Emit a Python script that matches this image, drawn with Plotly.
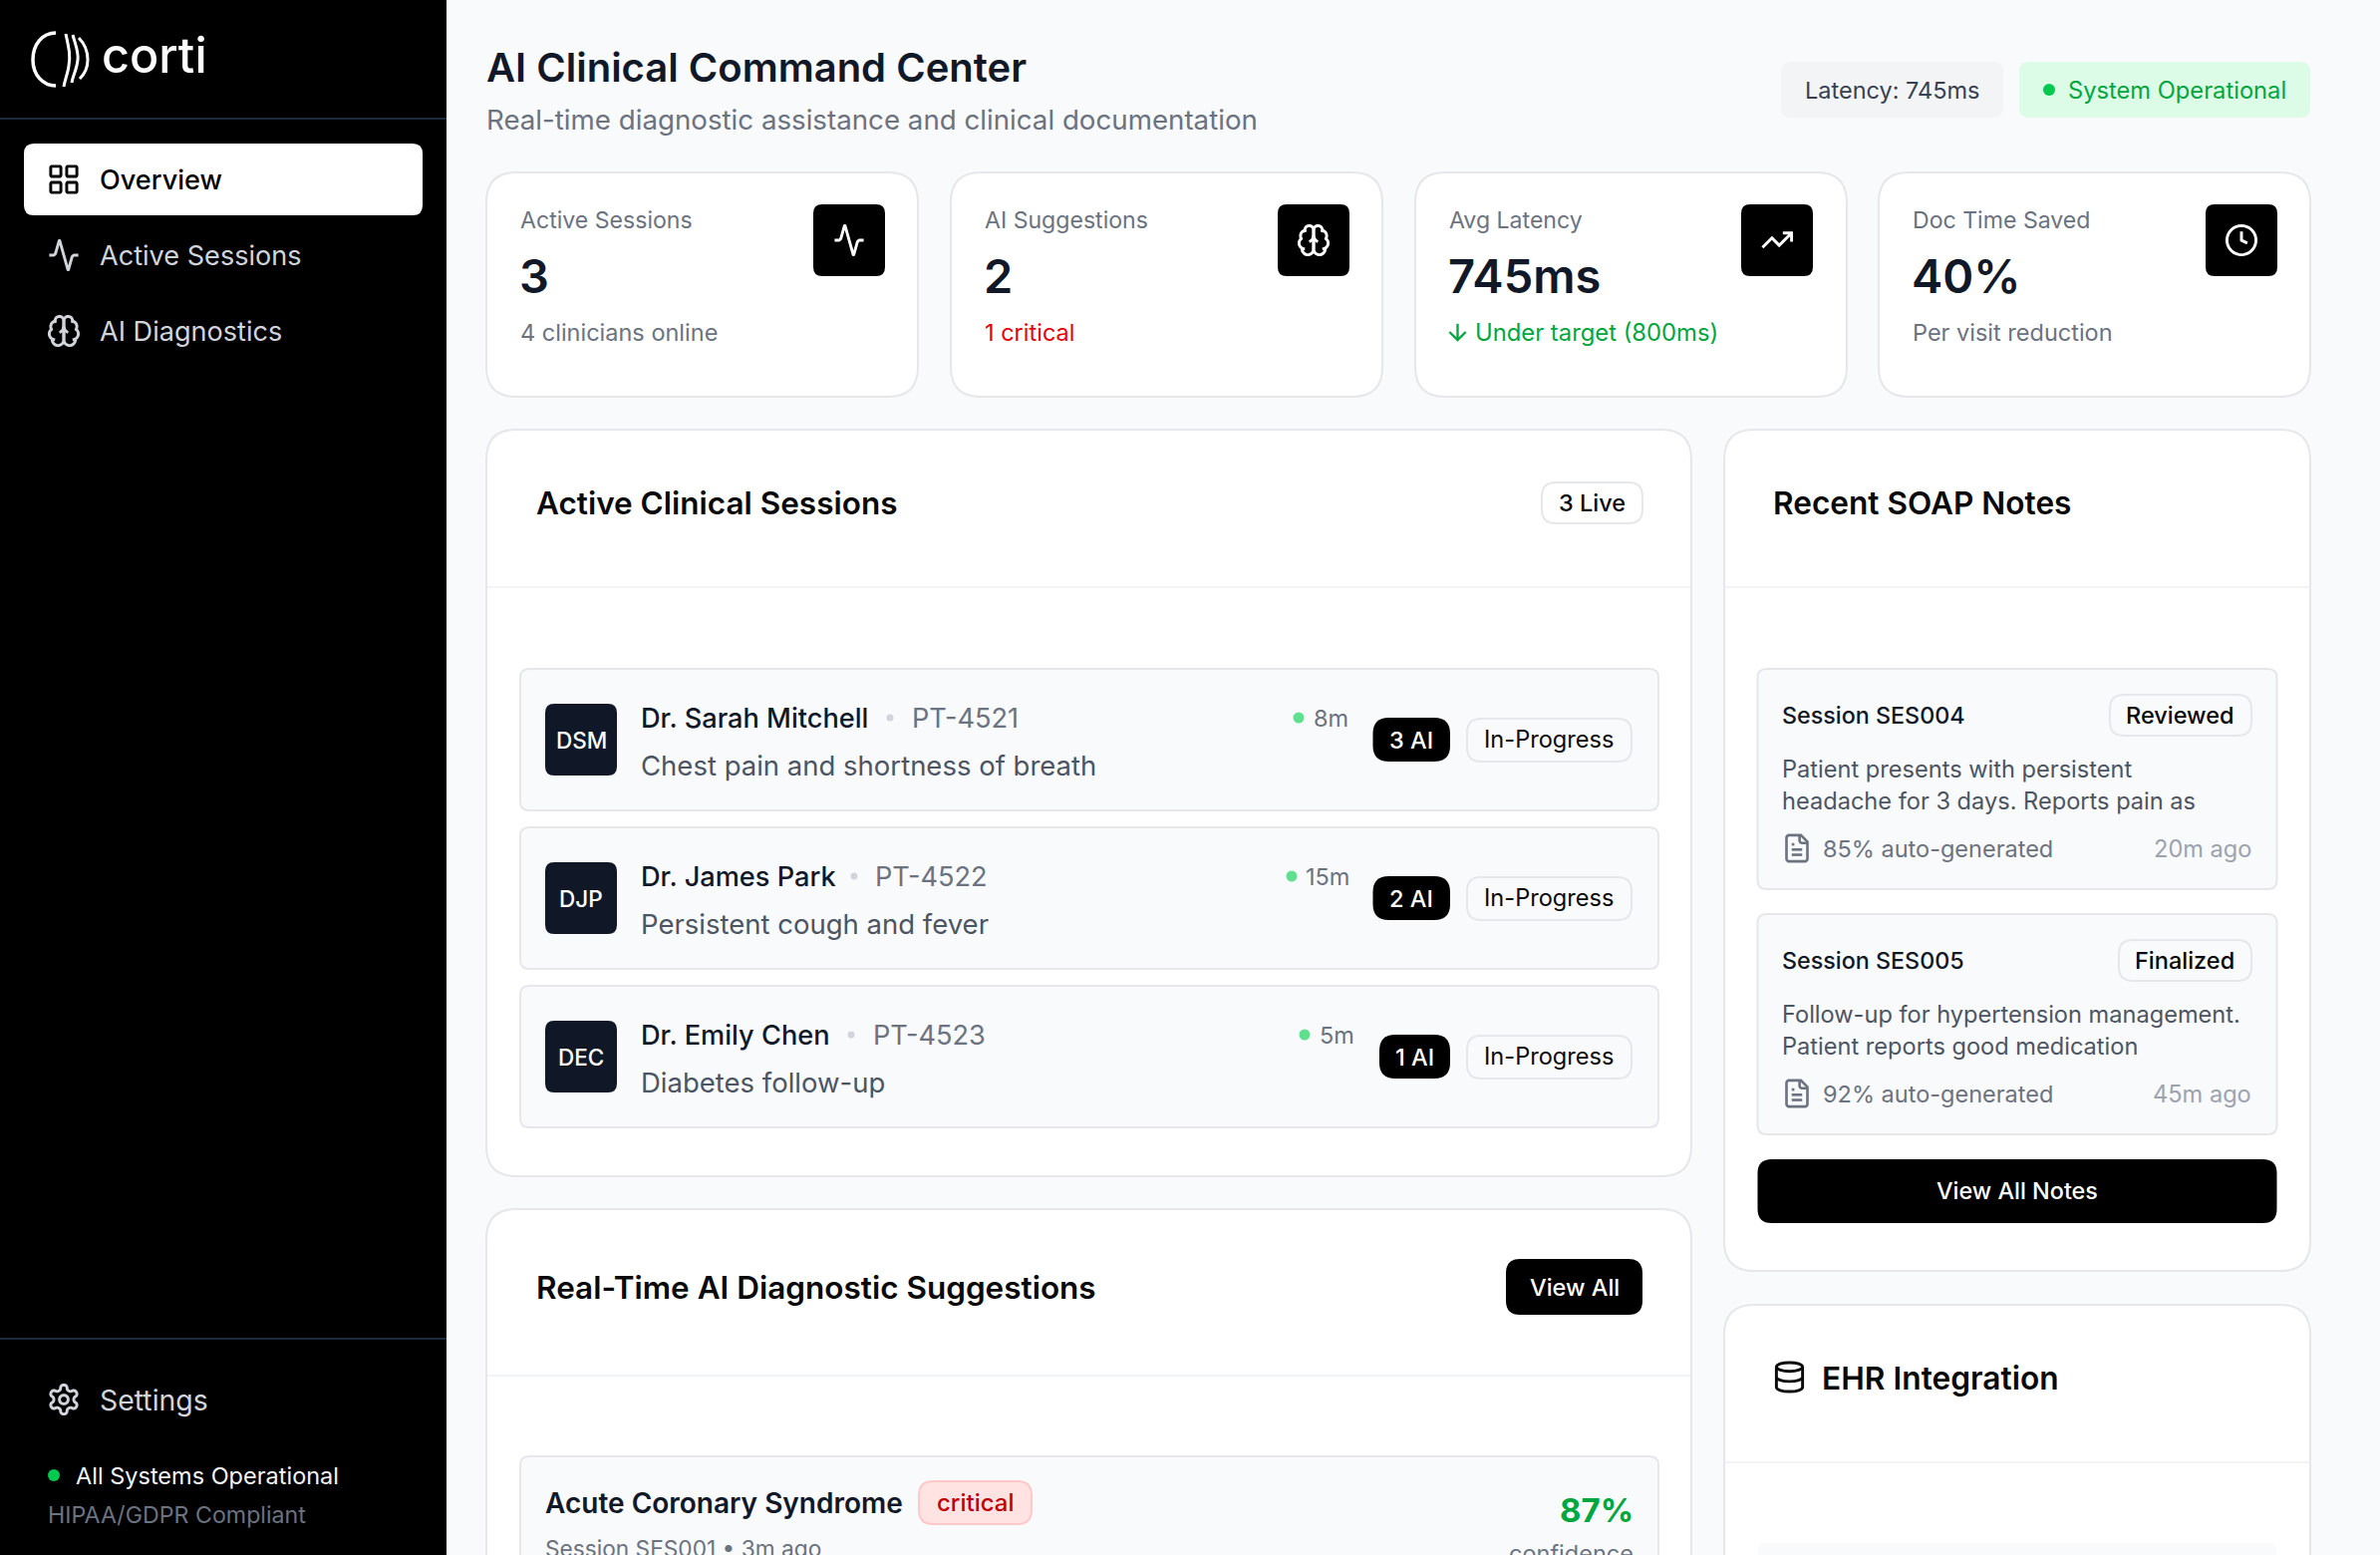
#!/usr/bin/env python3
"""Corti clinical command center dashboard, drawn with Plotly shapes and annotations."""
import math
import re

import plotly.graph_objects as go

# Page text and values
NAV_LABELS = ["Overview", "Active Sessions", "AI Diagnostics"]
STAT_LABELS = ["Active Sessions", "AI Suggestions", "Avg Latency", "Doc Time Saved"]
STAT_VALUES = ["3", "2", "745ms", "40%"]
STAT_NOTES = ["4 clinicians online", "1 critical", "Under target (800ms)", "Per visit reduction"]

DOCTORS = ["Dr. Sarah Mitchell", "Dr. James Park", "Dr. Emily Chen"]
INITIALS = ["DSM", "DJP", "DEC"]
PATIENTS = ["PT-4521", "PT-4522", "PT-4523"]
COMPLAINTS = ["Chest pain and shortness of breath", "Persistent cough and fever", "Diabetes follow-up"]
DURATIONS = ["8m", "15m", "5m"]
AI_COUNTS = ["3 AI", "2 AI", "1 AI"]
SESSION_STATUS = ["In-Progress", "In-Progress", "In-Progress"]

NOTE_IDS = ["Session SES004", "Session SES005"]
NOTE_STATUS = ["Reviewed", "Finalized"]
NOTE_LINE_1 = ["Patient presents with persistent", "Follow-up for hypertension management."]
NOTE_LINE_2 = ["headache for 3 days. Reports pain as", "Patient reports good medication"]
NOTE_AUTO = ["85% auto-generated", "92% auto-generated"]
NOTE_AGE = ["20m ago", "45m ago"]

# Layout, in screenshot pixels
W, H = 2388, 1560
FONT = "Inter"
BG = "#f9fafb"
BORDER = "#e5e7eb"
INK = "#111827"
GREY = "#6b7280"
SLATE = "#4b5563"

STAT_X = [488, 954, 1420, 1885]
STAT_ICON_X = [816, 1282, 1747, 2213]
ROW_Y = [671, 830, 989]
ROW_TIME_X = [1318, 1310, 1324]
ROW_DOT_X = [1303, 1296, 1309]
ROW_AI_X = [1377.5, 1377.5, 1384]
ROW_SEP_X = [893, 857, 854]
ROW_PT_X = [915, 878, 876]
NOTE_Y = [671, 917]
NOTE_BADGE_X = [2117, 2126]

ICONS = {
    "grid": ["M4 3h5a1 1 0 0 1 1 1v5a1 1 0 0 1-1 1h-5a1 1 0 0 1-1-1v-5a1 1 0 0 1 1-1z",
             "M15 3h5a1 1 0 0 1 1 1v5a1 1 0 0 1-1 1h-5a1 1 0 0 1-1-1v-5a1 1 0 0 1 1-1z",
             "M15 14h5a1 1 0 0 1 1 1v5a1 1 0 0 1-1 1h-5a1 1 0 0 1-1-1v-5a1 1 0 0 1 1-1z",
             "M4 14h5a1 1 0 0 1 1 1v5a1 1 0 0 1-1 1h-5a1 1 0 0 1-1-1v-5a1 1 0 0 1 1-1z"],
    "activity": ["M22 12h-2.48a2 2 0 0 0-1.93 1.46l-2.35 8.36a.25.25 0 0 1-.48 0L9.24 2.18a.25.25 0 0 0-.48 0l-2.35 8.36A2 2 0 0 1 4.49 12H2"],
    "brain": ["M12 5a3 3 0 1 0-5.997.125 4 4 0 0 0-2.526 5.77 4 4 0 0 0 .556 6.588A4 4 0 1 0 12 18Z",
              "M12 5a3 3 0 1 1 5.997.125 4 4 0 0 1 2.526 5.77 4 4 0 0 1-.556 6.588A4 4 0 1 1 12 18Z",
              "M15 13a4.5 4.5 0 0 1-3-4 4.5 4.5 0 0 1-3 4",
              "M17.599 6.5a3 3 0 0 0 .399-1.375", "M6.003 5.125A3 3 0 0 0 6.401 6.5",
              "M3.477 10.896a4 4 0 0 1 .585-.396", "M19.938 10.5a4 4 0 0 1 .585.396",
              "M6 18a4 4 0 0 1-1.967-.516", "M19.967 17.484A4 4 0 0 1 18 18"],
    "trend": ["M22 7L13.5 15.5L8.5 10.5L2 17", "M16 7L22 7L22 13"],
    "clock": ["M12 2a10 10 0 1 0 0 20a10 10 0 1 0 0-20z", "M12 6L12 12L16 14"],
    "gear": ["M12.22 2h-.44a2 2 0 0 0-2 2v.18a2 2 0 0 1-1 1.73l-.43.25a2 2 0 0 1-2 0l-.15-.08a2 2 0 0 0-2.73.73l-.22.38a2 2 0 0 0 .73 2.73l.15.1a2 2 0 0 1 1 1.72v.51a2 2 0 0 1-1 1.74l-.15.09a2 2 0 0 0-.73 2.73l.22.38a2 2 0 0 0 2.73.73l.15-.08a2 2 0 0 1 2 0l.43.25a2 2 0 0 1 1 1.73V20a2 2 0 0 0 2 2h.44a2 2 0 0 0 2-2v-.18a2 2 0 0 1 1-1.73l.43-.25a2 2 0 0 1 2 0l.15.08a2 2 0 0 0 2.73-.73l.22-.39a2 2 0 0 0-.73-2.73l-.15-.08a2 2 0 0 1-1-1.74v-.5a2 2 0 0 1 1-1.74l.15-.09a2 2 0 0 0 .73-2.73l-.22-.38a2 2 0 0 0-2.73-.73l-.15.08a2 2 0 0 1-2 0l-.43-.25a2 2 0 0 1-1-1.73V4a2 2 0 0 0-2-2z",
             "M12 9a3 3 0 1 0 0 6a3 3 0 1 0 0-6z"],
    "file": ["M15 2H6a2 2 0 0 0-2 2v16a2 2 0 0 0 2 2h12a2 2 0 0 0 2-2V7Z", "M14 2v4a2 2 0 0 0 2 2h4",
             "M10 9H8", "M16 13H8", "M16 17H8"],
    "database": ["M3 5C3 3.3 7 2 12 2C17 2 21 3.3 21 5C21 6.7 17 8 12 8C7 8 3 6.7 3 5",
                 "M3 5V19C3 20.7 7 22 12 22C17 22 21 20.7 21 19V5",
                 "M3 12C3 13.7 7 15 12 15C17 15 21 13.7 21 12"],
    "arrow": ["M12 5V19", "M19 12L12 19L5 12"],
}

shapes = []
annotations = []


def rrect(x0, y0, x1, y1, r, fill, line=None, lw=2):
    path = (f"M{x0 + r} {y0} L{x1 - r} {y0} Q{x1} {y0} {x1} {y0 + r} L{x1} {y1 - r} Q{x1} {y1} {x1 - r} {y1} "
            f"L{x0 + r} {y1} Q{x0} {y1} {x0} {y1 - r} L{x0} {y0 + r} Q{x0} {y0} {x0 + r} {y0} Z")
    shapes.append(dict(type="path", path=path, fillcolor=fill, xref="x", yref="y",
                       line=dict(color=line or fill, width=lw if line else 0)))


def hline(x0, x1, y, color, lw=2):
    shapes.append(dict(type="line", x0=x0, x1=x1, y0=y, y1=y, xref="x", yref="y", line=dict(color=color, width=lw)))


def dot(cx, cy, r, color):
    shapes.append(dict(type="circle", x0=cx - r, x1=cx + r, y0=cy - r, y1=cy + r, xref="x", yref="y",
                       fillcolor=color, line=dict(width=0)))


def label(x, y, s, size, color, weight=400, anchor="left"):
    # annotation boxes sit a little inside the anchor point
    if anchor == "left":
        x -= 1.5
    elif anchor == "right":
        x += 1.5
    annotations.append(dict(x=x, y=y, text=s, xref="x", yref="y", showarrow=False, xanchor=anchor, yanchor="middle",
                            borderpad=0, font=dict(family=FONT, size=size, color=color, weight=weight)))


def arc_points(x1, y1, r, large, sweep, x2, y2):
    # circular arcs only, sampled to a polyline since shape paths have no A command
    mx, my = (x1 + x2) / 2, (y1 + y2) / 2
    dx, dy = (x1 - x2) / 2, (y1 - y2) / 2
    d = math.hypot(dx, dy)
    r = max(r, d)
    h = math.sqrt(max(r * r - d * d, 0)) / d
    sign = -1 if large == sweep else 1
    cx, cy = mx + sign * h * dy, my - sign * h * dx
    t1 = math.atan2(y1 - cy, x1 - cx)
    t2 = math.atan2(y2 - cy, x2 - cx)
    dt = t2 - t1
    if sweep and dt < 0:
        dt += 2 * math.pi
    if not sweep and dt > 0:
        dt -= 2 * math.pi
    n = max(3, int(abs(dt) * 6))
    return [(cx + r * math.cos(t1 + dt * i / n), cy + r * math.sin(t1 + dt * i / n)) for i in range(1, n + 1)]


def icon_path(d, left, top, scale):
    tokens = re.findall(r"[MmLlHhVvCcAaZz]|-?(?:\d+\.?\d*|\.\d+)", d)
    out = []
    px = lambda a, b: f"{left + a * scale:.2f} {top + b * scale:.2f}"
    i = x = y = sx = sy = 0
    cmd = ""
    while i < len(tokens):
        if tokens[i].isalpha():
            cmd = tokens[i]
            i += 1
            if cmd in "Zz":
                out.append("Z")
                x, y = sx, sy
                continue
        rel = cmd.islower()
        base_x, base_y = (x, y) if rel else (0, 0)
        c = cmd.upper()
        if c in "ML":
            x, y = base_x + float(tokens[i]), base_y + float(tokens[i + 1])
            i += 2
            out.append(("M" if c == "M" else "L") + px(x, y))
            if c == "M":
                sx, sy = x, y
                cmd = "l" if rel else "L"
        elif c == "H":
            x = base_x + float(tokens[i])
            i += 1
            out.append("L" + px(x, y))
        elif c == "V":
            y = base_y + float(tokens[i])
            i += 1
            out.append("L" + px(x, y))
        elif c == "C":
            v = [float(t) for t in tokens[i:i + 6]]
            i += 6
            out.append("C" + px(base_x + v[0], base_y + v[1]) + " " + px(base_x + v[2], base_y + v[3])
                       + " " + px(base_x + v[4], base_y + v[5]))
            x, y = base_x + v[4], base_y + v[5]
        elif c == "A":
            v = [float(t) for t in tokens[i:i + 7]]
            i += 7
            x2, y2 = base_x + v[5], base_y + v[6]
            for a, b in arc_points(x, y, v[0], int(v[3]), int(v[4]), x2, y2):
                out.append("L" + px(a, b))
            x, y = x2, y2
    return " ".join(out)


def icon(name, cx, cy, size, color):
    scale = size / 24
    for d in ICONS[name]:
        shapes.append(dict(type="path", path=icon_path(d, cx - size / 2, cy - size / 2, scale), xref="x", yref="y",
                           line=dict(color=color, width=scale * 2)))


# page and sidebar
rrect(448, 0, W, H, 0, BG)
rrect(0, 0, 448, H, 0, "#000000")
hline(0, 448, 119, "#1e293b")
hline(0, 448, 1343, "#1e293b")

for d, lw in [("M56 33C42 33 33 45 33 60C33 75 43 86 56 86", 3.5),
              ("M66 34C69 48 71 56 69 66C68 74 65 80 64 87", 3),
              ("M73 35C76 46 79 52 78 60C77 70 73 76 72 83", 3),
              ("M79 38C85 44 88 52 88 60C88 68 85 74 80 79", 3)]:
    shapes.append(dict(type="path", path=d, xref="x", yref="y", line=dict(color="#ffffff", width=lw)))
label(102.5, 55, "corti", 48.5, "#ffffff", 500)

rrect(24, 144, 424, 216, 10, "#ffffff")
NAV_Y = [180, 256, 332]
NAV_ICONS = ["grid", "activity", "brain"]
NAV_COLORS = ["#000000", "#d1d5db", "#d1d5db"]
for text, y, ic, col in zip(NAV_LABELS, NAV_Y, NAV_ICONS, NAV_COLORS):
    icon(ic, 64, y, 35, col)
    label(100, y, text, 27.1, col, 500 if col == "#000000" else 400)

icon("gear", 64, 1404, 35, "#d1d5db")
label(100, 1404, "Settings", 28.4, "#d1d5db")
dot(54, 1480, 6, "#00c950")
label(76, 1480, "All Systems Operational", 23.5, "#f3f4f6")
label(48, 1520, "HIPAA/GDPR Compliant", 23.2, GREY)

# header
label(488, 67.5, "AI Clinical Command Center", 40, INK, 600)
label(488, 120, "Real-time diagnostic assistance and clinical documentation", 27.7, GREY)
rrect(1787, 62, 2010, 118, 10, "#f3f4f6")
label(1811, 90, "Latency: 745ms", 23.5, "#374151")
rrect(2026, 62, 2318, 118, 10, "#dcfce7")
dot(2056, 90, 6, "#00c950")
label(2075, 90, "System Operational", 23.7, "#00a63e")

# stat cards
STAT_NOTE_COLORS = [GREY, "#e7000b", "#00a63e", GREY]
STAT_ICONS = ["activity", "brain", "trend", "clock"]
for i in range(4):
    x = STAT_X[i]
    rrect(x, 173, x + 433, 398, 30, "#ffffff", BORDER)
    label(x + 34, 221, STAT_LABELS[i], 23.1, GREY)
    label(x + 33, 276, STAT_VALUES[i], 47, INK, 600)
    note_x = x + 34 + (26 if i == 2 else 0)
    label(note_x, 333, STAT_NOTES[i], 23.8 if i == 2 else 23.5, STAT_NOTE_COLORS[i])
    rrect(STAT_ICON_X[i], 205, STAT_ICON_X[i] + 72, 277, 9, "#000000")
    icon(STAT_ICONS[i], STAT_ICON_X[i] + 36, 241, 35, "#ffffff")
icon("arrow", 1462.5, 333, 28, "#00a63e")

# active sessions panel
rrect(488, 431, 1697, 1180, 30, "#ffffff", BORDER)
hline(489, 1696, 589, "#f3f4f6")
label(538, 504.5, "Active Clinical Sessions", 31.5, "#0a0a0a", 600)
rrect(1547, 484, 1648, 525, 14, "#ffffff", BORDER)
label(1597.5, 504.5, "3 Live", 23.5, "#0a0a0a", 500, "center")
for i in range(3):
    y = ROW_Y[i]
    rrect(522, y, 1664, y + 142, 9, BG, BORDER)
    rrect(547, y + 35, 619, y + 107, 9, "#101828")
    label(583, y + 71, INITIALS[i], 22.5, "#ffffff", 500, "center")
    label(643, y + 49, DOCTORS[i], 27.2, INK, 500)
    dot(ROW_SEP_X[i], y + 49, 3.5, "#d1d5db")
    label(ROW_PT_X[i], y + 49, PATIENTS[i], 27.2, GREY)
    label(643, y + 97, COMPLAINTS[i], 27.5, SLATE)
    dot(ROW_DOT_X[i], y + 49, 5.5, "#5ee08e")
    label(ROW_TIME_X[i], y + 49, DURATIONS[i], 23.5, GREY)
    rrect(ROW_AI_X[i], y + 49, 1455, y + 93, 16, "#000000")
    label((ROW_AI_X[i] + 1455) / 2, y + 71, AI_COUNTS[i], 23.5, "#ffffff", 500, "center")
    rrect(1472, y + 50, 1637, y + 93, 14, BG, BORDER)
    label(1554, y + 70.5, SESSION_STATUS[i], 23.6, "#0a0a0a", 400, "center")

# suggestions panel, runs off the bottom of the page
rrect(488, 1213, 1697, 1640, 30, "#ffffff", BORDER)
hline(489, 1696, 1380, "#f3f4f6")
label(538, 1291, "Real-Time AI Diagnostic Suggestions", 31.5, "#0a0a0a", 600)
rrect(1511, 1263, 1648, 1319, 14, "#000000")
label(1579.5, 1291, "View All", 23.5, "#ffffff", 500, "center")
rrect(522, 1461, 1664, 1640, 9, BG, BORDER)
label(547, 1508, "Acute Coronary Syndrome", 28, INK, 600)
rrect(922, 1486, 1035, 1529, 14, "#ffe2e2", "#ffc9c9")
label(978, 1507.5, "critical", 24, "#c10007", 500, "center")
label(1638, 1515, "87%", 33, "#00a63e", 700, "right")
label(547, 1553, "Session SES001 • 3m ago", 22.7, GREY)
label(1638, 1558, "confidence", 23.5, GREY, 400, "right")

# SOAP notes panel
rrect(1730, 431, 2318, 1275, 30, "#ffffff", BORDER)
hline(1731, 2317, 589, "#f3f4f6")
label(1779, 504.5, "Recent SOAP Notes", 31.6, "#0a0a0a", 600)
for i in range(2):
    y = NOTE_Y[i]
    rrect(1763.5, y, 2284.5, y + 221, 9, BG, BORDER)
    label(1788.5, y + 46, NOTE_IDS[i], 23.3, INK, 500)
    rrect(NOTE_BADGE_X[i], y + 26, 2259, y + 67, 14, BG, BORDER)
    label((NOTE_BADGE_X[i] + 2259) / 2 - 1, y + 46, NOTE_STATUS[i], 23.5, "#0a0a0a", 500, "center")
    label(1788.5, y + 100, NOTE_LINE_1[i], 23.6, SLATE)
    label(1788.5, y + 132, NOTE_LINE_2[i], 23.6, SLATE)
    icon("file", 1803, y + 180, 31.5, GREY)
    label(1829, y + 180, NOTE_AUTO[i], 23.5, GREY)
    label(2258, y + 180, NOTE_AGE[i], 23.6, "#9ca3af", 400, "right")
rrect(1763.5, 1163, 2284.5, 1227, 14, "#000000")
label(2024, 1194, "View All Notes", 23.4, "#ffffff", 500, "center")

# EHR panel
rrect(1730, 1309, 2318, 1640, 30, "#ffffff", BORDER)
hline(1731, 2317, 1467, "#f3f4f6")
icon("database", 1795.5, 1381.5, 35, "#0a0a0a")
label(1828, 1382, "EHR Integration", 31.7, "#0a0a0a", 600)
rrect(1763.5, 1548, 2284.5, 1640, 9, BG)

fig = go.Figure(go.Scatter(x=[], y=[]))
fig.update_layout(
    width=W, height=H, margin=dict(l=0, r=0, t=0, b=0), showlegend=False,
    paper_bgcolor=BG, plot_bgcolor=BG, shapes=shapes, annotations=annotations,
    xaxis=dict(range=[0, W], visible=False, fixedrange=True),
    yaxis=dict(range=[H, 0], visible=False, fixedrange=True),
)
fig.write_html("out.html", config={"displayModeBar": False},
               post_script="document.body.style.margin='0';document.documentElement.style.overflow='hidden';")
